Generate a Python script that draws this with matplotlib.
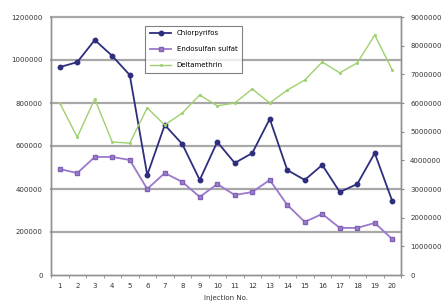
import matplotlib.pyplot as plt
import numpy as np

injections = list(range(1, 21))
chlorpyrifos = [967000, 990000, 1093000, 1019000, 930000, 465000, 698000, 609000, 442000, 619000,
                521000, 567000, 726000, 488000, 442000, 512000, 386000, 423000, 567000, 344000]
endosulfan_sulfat = [493000, 474000, 549000, 549000, 535000, 400000, 474000, 433000, 363000, 423000,
                     372000, 386000, 442000, 326000, 247000, 284000, 219000, 219000, 242000, 167000]
deltamethrin = [6000000, 4810000, 6140000, 4640000, 4600000, 5830000, 5230000, 5650000, 6280000, 5900000,
                6000000, 6490000, 6000000, 6450000, 6800000, 7430000, 7050000, 7400000, 8370000, 7150000]

left_ticks = [0, 200000, 400000, 600000, 800000, 1000000, 1200000]
right_ticks = list(range(0, 9000001, 1000000))

fig = plt.figure(figsize=(4.45, 3.06), dpi=100)
ax1 = fig.add_axes([51/445, 31/306, 350/445, 258/306])
ax2 = ax1.twinx()

x = np.arange(len(injections))
fs = 5

# grid lines on the left scale
for v in left_ticks[1:]:
    ax1.axhline(v, color='#a8a8a8', lw=1.6, zorder=0, clip_on=False)

l1, = ax1.plot(x, chlorpyrifos, color='#2e2e7e', lw=1.3, marker='o', ms=3.2,
               mfc='#2e2e7e', mec='#2e2e7e', label='Chlorpyrifos', zorder=3)
l2, = ax1.plot(x, endosulfan_sulfat, color='#9a78cc', lw=1.3, marker='s', ms=3.2,
               mfc='#9a82c8', mec='#8060b8', label='Endosulfan sulfat', zorder=3)
l3, = ax2.plot(x, deltamethrin, color='#9fd070', lw=1.0, marker='x', ms=1.5,
               label='Deltamethrin', zorder=2)

ax1.set_xlim(-0.5, len(injections) - 0.5)
ax1.set_ylim(0, 1200000)
ax2.set_ylim(0, 9000000)

ax1.set_xticks(x)
ax1.set_xticklabels([str(i) for i in injections], fontsize=fs, color='#333333')
ax1.set_xticks(np.arange(-0.5, len(injections)), minor=True)
ax1.tick_params(axis='x', which='major', length=0, pad=6)
ax1.tick_params(axis='x', which='minor', length=2, color='#888888')

ax1.set_yticks(left_ticks)
ax1.set_yticklabels([str(v) for v in left_ticks], fontsize=fs, color='#333333')
ax1.tick_params(axis='y', length=0, pad=6)

ax2.set_yticks(right_ticks)
ax2.set_yticklabels([str(v) for v in right_ticks], fontsize=fs, color='#333333')
ax2.tick_params(axis='y', length=2.5, color='#888888', pad=4)

for ax in (ax1, ax2):
    ax.spines['top'].set_visible(False)
    for s in ('left', 'right', 'bottom'):
        ax.spines[s].set_color('#909090')
        ax.spines[s].set_linewidth(1.0)

ax1.set_xlabel('Injection No.', fontsize=fs, color='#333333', labelpad=4)

leg = ax1.legend(handles=[l1, l2, l3], loc='upper left', bbox_to_anchor=(0.26, 0.98),
                 fontsize=fs, frameon=True, fancybox=False, edgecolor='#606060',
                 borderpad=0.7, handlelength=3.0, labelspacing=1.4)
leg.get_frame().set_linewidth(0.8)
leg.set_zorder(5)

fig.savefig('out.png', dpi=100)
